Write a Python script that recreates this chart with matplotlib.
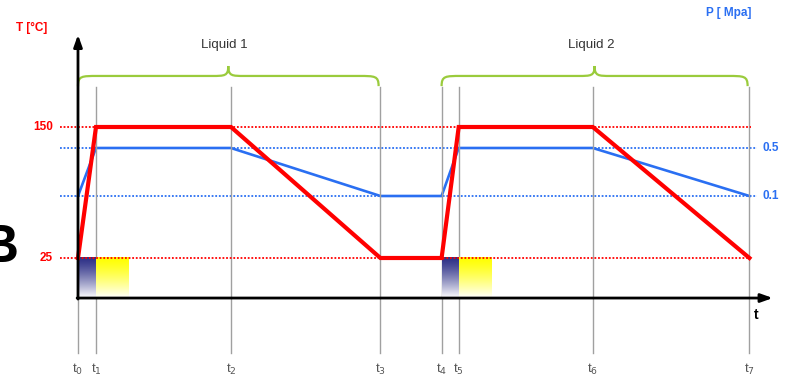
import numpy as np
import matplotlib
matplotlib.use("Agg")
import matplotlib.pyplot as plt
from matplotlib.path import Path
from matplotlib.patches import PathPatch

# time marks (arbitrary units) and the two process curves
times = [0, 1.0, 8.5, 16.8, 20.2, 21.15, 28.6, 37.3]
time_labels = ["t$_0$", "t$_1$", "t$_2$", "t$_3$", "t$_4$", "t$_5$", "t$_6$", "t$_7$"]
temperature = [25, 150, 150, 25, 25, 150, 150, 25]
pressure = [0.1, 0.5, 0.5, 0.1, 0.1, 0.5, 0.5, 0.1]
temp_ticks = [150, 25]
press_ticks = [0.5, 0.1]
phases = ["Liquid 1", "Liquid 2"]
phase_spans = [(0, 3), (4, 7)]   # index into times

RED = "#ff0000"
BLUE = "#2a6ff2"
GREEN = "#9acb3c"
GRAY = "#a0a0a0"

plt.rcParams['font.family'] = ['Liberation Sans', 'DejaVu Sans']

fig = plt.figure(figsize=(7.86, 3.79), dpi=100)
ax = fig.add_axes([0, 0, 1, 1])
ax2 = ax.twinx()
ax.set_xlim(-4.333, 39.333)
ax.set_ylim(-90.46, 271.18)
ax2.set_ylim(-1.425, 1.7333)
ax.axis("off")
ax2.axis("off")
# temperature axes on top of pressure axes
ax.set_zorder(ax2.get_zorder() + 1)
ax.patch.set_visible(False)

base = -13.2      # T level of the time axis
top_line = 188.0
bottom_line = -65.6

# vertical time markers
for i, (t, lab) in enumerate(zip(times, time_labels)):
    ytop = base if i == 0 else top_line
    ax.plot([t, t], [ytop, bottom_line], color=GRAY, lw=1.0, zorder=1)
    ax.text(t, -81, lab, ha="center", va="center", fontsize=9.5, color="#555555")

# dotted reference levels
for v in temp_ticks:
    ax.plot([-1.0, 37.4], [v, v], color=RED, lw=1.3, ls=(0, (1, 1)), zorder=2)
    ax.text(-1.4, v, str(v), ha="right", va="center", fontsize=8.5,
            color=RED, fontweight="bold")
for v in press_ticks:
    ax2.plot([-1.0, 37.7], [v, v], color=BLUE, lw=1.3, ls=(0, (1, 1)), zorder=2)
    ax2.text(38.0, v, str(v), ha="left", va="center", fontsize=8.5,
             color=BLUE, fontweight="bold")

# gradient boxes (heating / holding)
grad = np.linspace(0, 1, 100).reshape(-1, 1)
navy = np.array([0.18, 0.19, 0.53])
yellow = np.array([1.0, 1.0, 0.0])
for col, x0, x1 in [(navy, times[0], times[1]), (yellow, times[1], 2.78),
                    (navy, times[4], times[5]), (yellow, times[5], times[5] + 1.78)]:
    img = col[None, None, :] * (1 - grad[..., None] ** 1.3) + np.ones(3) * grad[..., None] ** 1.3
    ax.imshow(img, extent=[x0, x1, base, 25], aspect="auto", origin="upper", zorder=1.5)

# process curves
ax2.plot(times, pressure, color=BLUE, lw=1.9, zorder=3, solid_joinstyle="miter")
ax.plot(times, temperature, color=RED, lw=3.0, zorder=4, solid_joinstyle="miter")

# axes arrows
ax.annotate("", xy=(0, 238), xytext=(0, base - 1),
            arrowprops=dict(arrowstyle="-|>,head_width=0.25,head_length=0.7",
                            color="black", lw=2.0, shrinkA=0, shrinkB=0), zorder=5)
ax.annotate("", xy=(38.6, base), xytext=(-0.05, base),
            arrowprops=dict(arrowstyle="-|>,head_width=0.25,head_length=0.7",
                            color="black", lw=2.0, shrinkA=0, shrinkB=0), zorder=5)

# curly braces over each liquid phase
y_end, y_flat, y_peak = 189.0, 198.7, 208.2
for name, (a, b) in zip(phases, phase_spans):
    x0, x1 = times[a], times[b] - 0.1
    xm = (x0 + x1) / 2
    w, p = 1.1, 0.9
    verts = [(x0, y_end), (x0, y_flat), (x0 + 0.2, y_flat), (x0 + w, y_flat),
             (xm - p, y_flat),
             (xm - 0.2, y_flat), (xm, y_flat), (xm, y_peak),
             (xm, y_flat), (xm + 0.2, y_flat), (xm + p, y_flat),
             (x1 - w, y_flat),
             (x1 - 0.2, y_flat), (x1, y_flat), (x1, y_end)]
    codes = [Path.MOVETO, Path.CURVE4, Path.CURVE4, Path.CURVE4,
             Path.LINETO,
             Path.CURVE4, Path.CURVE4, Path.CURVE4,
             Path.CURVE4, Path.CURVE4, Path.CURVE4,
             Path.LINETO,
             Path.CURVE4, Path.CURVE4, Path.CURVE4]
    ax.add_patch(PathPatch(Path(verts, codes), fill=False, ec=GREEN, lw=1.6, zorder=3))
    ax.text(xm - 0.2, 228, name, ha="center", va="center", fontsize=9.5, color="#333333")

# axis titles
ax.text(-2.6, 244.5, "T [°C]", ha="center", va="center", fontsize=8.5,
        color=RED, fontweight="bold")
ax.text(36.17, 259, "P [ Mpa]", ha="center", va="center", fontsize=8.5,
        color=BLUE, fontweight="bold")
ax.text(37.67, -29.4, "t", ha="center", va="center", fontsize=10,
        color="black", fontweight="bold")
# panel letter, cut by the left edge as in the source figure
ax.text(-3.3, 34.5, "B", ha="right", va="center", fontsize=38,
        color="black", fontweight="bold")

fig.savefig("out.png", dpi=100)
